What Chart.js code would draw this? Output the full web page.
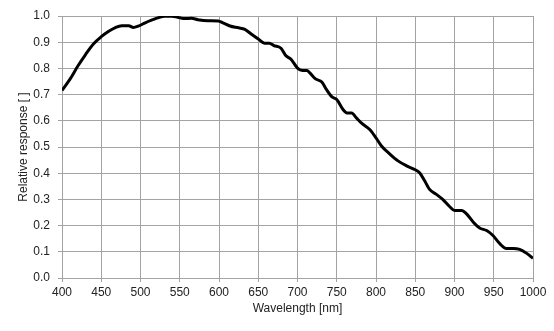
<!DOCTYPE html>
<html>
<head>
<meta charset="utf-8">
<script src="https://cdn.jsdelivr.net/npm/chart.js"></script>
<style>
  html, body { margin: 0; padding: 0; background: #fff; }
  canvas { display: block; }
</style>
</head>
<body>
<canvas id="chart" width="554" height="331"></canvas>
<script>
// Longitudes de onda (nm) y respuesta relativa
const wavelengths = [400, 410, 420, 430, 440, 450, 459, 468, 476, 485, 491, 497, 506, 514, 523, 531, 540,
    550, 556, 565, 573, 586, 599, 605, 614, 625, 633, 641, 650, 658, 664, 670, 679, 685, 692,
    700, 706, 712, 716, 723, 731, 737, 744, 750, 758, 763, 769, 775, 782, 792,
    800, 807, 818, 828, 839, 850, 856, 862, 868, 877, 885, 894,
    900, 909, 915, 924, 932, 941, 949, 958, 966, 975, 983, 992, 1000];
const response = [0.716, 0.758, 0.808, 0.853, 0.893, 0.921, 0.941, 0.956, 0.963, 0.963, 0.956, 0.961, 0.974, 0.984, 0.994, 0.999, 0.999,
    0.993, 0.990, 0.991, 0.986, 0.982, 0.981, 0.974, 0.962, 0.955, 0.949, 0.931, 0.912, 0.896, 0.896, 0.887, 0.877, 0.849, 0.834,
    0.801, 0.792, 0.792, 0.782, 0.760, 0.748, 0.719, 0.691, 0.681, 0.643, 0.630, 0.630, 0.611, 0.590, 0.567,
    0.535, 0.504, 0.472, 0.447, 0.428, 0.413, 0.400, 0.371, 0.339, 0.319, 0.300, 0.272,
    0.258, 0.258, 0.246, 0.213, 0.191, 0.181, 0.162, 0.130, 0.113, 0.113, 0.109, 0.094, 0.075];

// Ejes
const xMin = 400, xMax = 1000, xStep = 50;
const yMin = 0, yMax = 1, yStep = 0.1;
const xTitle = 'Wavelength [nm]';
const yTitle = 'Relative response [ ]';

const gridColor = '#a3a3a3';
const textColor = '#222';
const font = { family: 'Liberation Sans, Arial, sans-serif', size: 12 };

const points = wavelengths.map((w, i) => ({ x: w, y: response[i] }));

new Chart(document.getElementById('chart').getContext('2d'), {
    type: 'line',
    data: {
        datasets: [{
            data: points,
            borderColor: '#000',
            borderWidth: 3,
            pointRadius: 0,
            fill: false,
            cubicInterpolationMode: 'monotone'
        }]
    },
    options: {
        responsive: false,
        animation: false,
        layout: { padding: { left: 0, right: 21, top: 16, bottom: 0 } },
        plugins: {
            legend: { display: false },
            tooltip: { enabled: false }
        },
        scales: {
            x: {
                type: 'linear',
                min: xMin,
                max: xMax,
                ticks: {
                    stepSize: xStep,
                    color: textColor,
                    font: font,
                    padding: 3,
                    maxRotation: 0,
                    callback: (v) => String(v)
                },
                grid: { color: gridColor, lineWidth: 1, tickLength: 4 },
                border: { color: gridColor, width: 1 },
                title: { display: true, text: xTitle, color: textColor, font: font, padding: { top: 0, bottom: 15 } },
                afterFit: (scale) => { scale.height = 53; }
            },
            y: {
                min: yMin,
                max: yMax,
                ticks: {
                    stepSize: yStep,
                    color: textColor,
                    font: font,
                    padding: 8,
                    callback: (v) => v.toFixed(1)
                },
                grid: { color: gridColor, lineWidth: 1, tickLength: 4 },
                border: { color: gridColor, width: 1 },
                title: { display: true, text: yTitle, color: textColor, font: font, padding: { top: 16, bottom: 0 } },
                afterFit: (scale) => { scale.width = 62; }
            }
        }
    }
});
</script>
</body>
</html>
